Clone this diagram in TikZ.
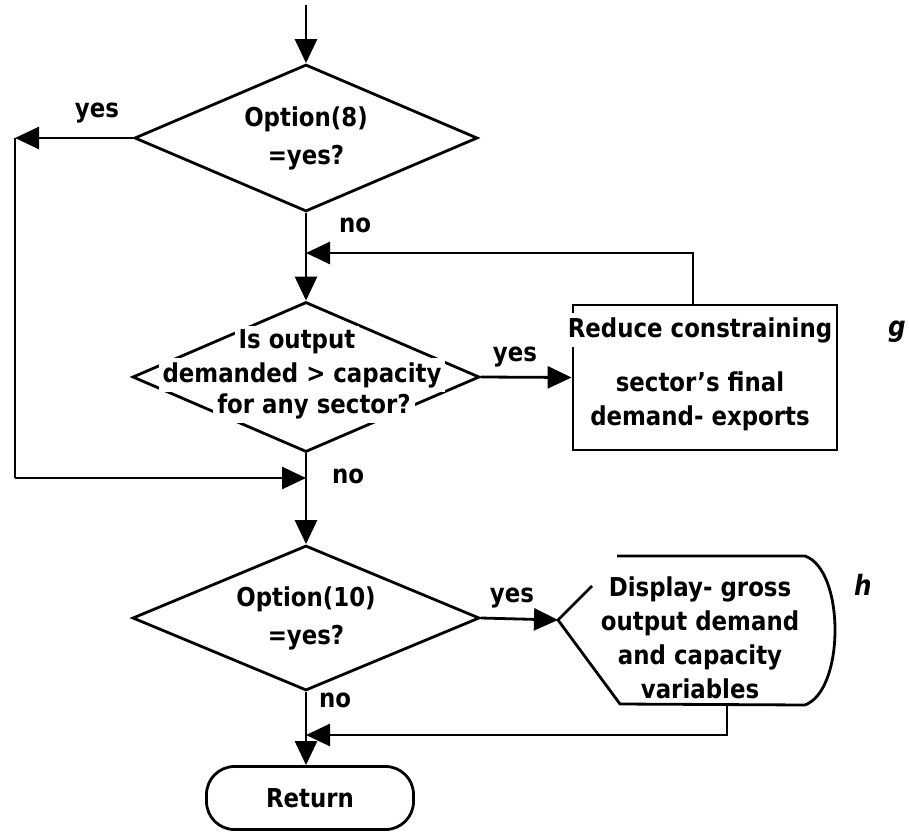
\documentclass[tikz,border=0pt]{standalone}
\usepackage{fontspec}
\setmainfont{DejaVu Sans}[FakeStretch=0.88]
\usepackage{tikz}
\usetikzlibrary{shapes.geometric}
\usetikzlibrary{arrows.meta}
\begin{document}
\begin{tikzpicture}[x=0.5pt,y=-0.5pt,
	line width=1.4pt,
	font=\bfseries\fontsize{13}{17}\selectfont,
	arr/.style={-{Triangle[length=12pt,width=11pt]}},
	decision/.style={draw,diamond,inner sep=0pt,aspect=2.3,align=center},
	lbl/.style={inner sep=1pt},
	blank/.style={fill=white,inner sep=2pt},
	tag/.style={font=\bfseries\itshape\fontsize{14}{16}\selectfont}]
	\useasboundingbox (0,0) rectangle (909,834);
	\coordinate (start) at (306,5);
	\node[decision,minimum width=171.5pt,minimum height=73.5pt] (opt8) at (306,138) {Option(8)\\[2pt]=yes?};
	\node[decision,minimum width=173.5pt,minimum height=75pt] (test) at (306,377) {};
	\node[blank] (test1) at (297,342) {Is output};
	\node[blank] (test2) at (302,375) {demanded > capacity};
	\node[blank] (test3) at (314,406) {for any sector?};
	\node[draw,minimum width=132pt,minimum height=72.5pt] (reduce) at (705,377.5) {};
	\node[blank] (reduce1) at (700,330) {Reduce constraining};
	\node[align=center] (reduce2) at (700,401) {sector's final\\demand- exports};
	\node[decision,minimum width=173.5pt,minimum height=72.5pt] (opt10) at (306,618) {Option(10)\\[2pt]=yes?};
	\coordinate (dispin) at (558,620);
	\draw (592,586) -- (dispin) -- (620,704) -- (805,705) .. controls (845,690) and (845,570) .. (805,556) -- (617,556);
	\node[align=center] (disp) at (700,638) {Display- gross\\output demand\\and capacity\\variables};
	\node[draw,rounded corners=14pt,minimum width=103.5pt,minimum height=31.5pt] (ret) at (310,798) {Return};
	\node[lbl] (yes1) at (97,113) {yes};
	\node[lbl] (no1) at (355,225) {no};
	\node[lbl] (yes2) at (515,357) {yes};
	\node[lbl] (no2) at (348,476) {no};
	\node[lbl] (yes3) at (512,598) {yes};
	\node[lbl] (no3) at (335,700) {no};
	\node[tag] (tagg) at (897,332) {g};
	\node[tag] (tagh) at (863,585) {h};
	\coordinate (j1) at (306,253);
	\coordinate (rtop) at (693,305);
	\coordinate (c1) at (15,138);
	\coordinate (c2) at (15,478);
	\coordinate (j2) at (306,478);
	\coordinate (dispout) at (727,705);
	\coordinate (j3) at (306,735);
	\draw[arr] (start) -- (opt8.north);
	\draw[arr] (opt8.south) -- (test.north);
	\draw[arr] (rtop) |- (j1);
	\draw[arr] (opt8.west) -- (c1);
	\draw (c1) -- (c2);
	\draw[arr] (c2) -- (j2);
	\draw[arr] (test.east) -- (reduce.west);
	\draw[arr] (test.south) -- (opt10.north);
	\draw[arr] (opt10.east) -- (dispin);
	\draw[arr] (opt10.south) -- (opt10.south |- ret.north);
	\draw[arr] (dispout) |- (j3);
\end{tikzpicture}
\end{document}
